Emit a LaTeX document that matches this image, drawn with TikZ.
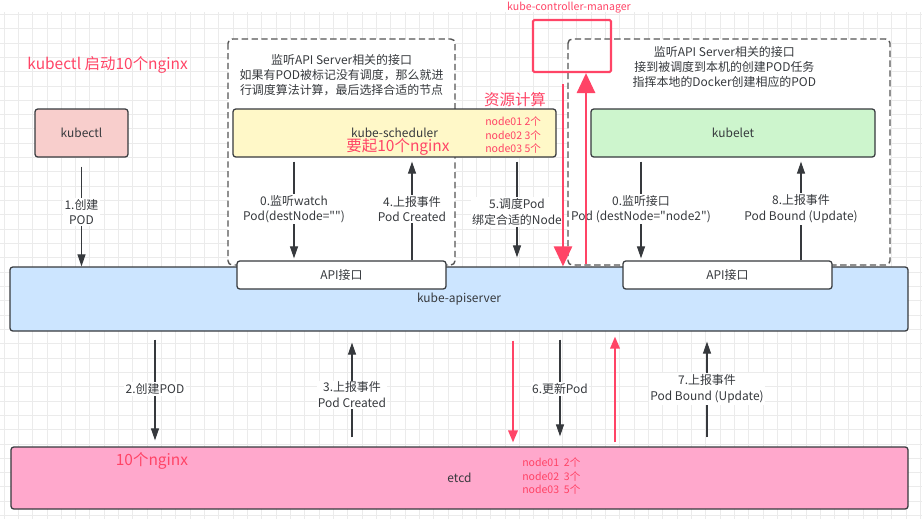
\documentclass[tikz,border=0pt]{standalone}
\usepackage{fontspec}
\setmainfont{Noto Sans CJK SC}[Ligatures=TeXOff]
\usepackage{tikz}
\usetikzlibrary{arrows.meta,calc}
\definecolor{blk}{HTML}{36393D}
\definecolor{dsh}{HTML}{555555}
\definecolor{hot}{HTML}{FF4466}
\definecolor{ctl}{HTML}{F8CECC}
\definecolor{sch}{HTML}{FFF8C8}
\definecolor{klt}{HTML}{CDF5CD}
\definecolor{api}{HTML}{CCE5FF}
\definecolor{etc}{HTML}{FFA8CC}
\definecolor{grd}{HTML}{EBEBEB}
\newcommand\fnorm{\fontsize{8.5}{11}\selectfont}
\newcommand\fbig{\fontsize{11}{13}\selectfont}
\newcommand\fsmall{\fontsize{7.5}{9.3}\selectfont}
\tikzset{
  >={Triangle[length=3mm,width=2mm]},
  box/.style={draw=blk, line width=0.9pt, rounded corners=2pt, minimum height=1.2cm,
              text=blk, font=\fnorm},
  frame/.style={draw=dsh, line width=1pt, dash pattern=on 4.5pt off 2.5pt, rounded corners=3pt, fill=white},
  note/.style={align=center, text=blk, font=\fontsize{8.5}{10.7}\selectfont},
  lbl/.style={fill=white, align=center, text=blk, font=\fnorm, inner sep=1pt},
  arr/.style={->, draw=blk, line width=0.8pt},
  hottxt/.style={text=hot, align=left, inner sep=0pt},
  hotbox/.style={draw=hot, line width=1.5pt, rounded corners=1pt},
  hotarr/.style={draw=hot, line width=2pt, -{Triangle[length=5mm,width=4.5mm]}},
  hotarrs/.style={draw=hot, line width=1.2pt, -{Triangle[length=3mm,width=2.4mm]}},
}
\begin{document}
\begin{tikzpicture}
  \useasboundingbox (0,0) rectangle (23.05,-12.975);
  % grid
  \foreach \i in {0,...,64}
    \draw[grd,line width=0.6pt] (0.1+\i*0.358,-0.3) -- (0.1+\i*0.358,-12.975);
  \foreach \i in {1,...,36}
    \draw[grd,line width=0.6pt] (0,-\i*0.358) -- (23.05,-\i*0.358);
  % frames
  \draw[frame] (5.7,-0.975) rectangle (11.375,-6.625);
  \draw[frame] (14.2,-0.975) rectangle (22.25,-6.625);
  \node[note] (schnote) at (8.54,-1.875) {监听API Server相关的接口\\如果有POD被标记没有调度，那么就进\\行调度算法计算，最后选择合适的节点};
  \node[note] (kltnote) at (18.11,-1.675) {监听API Server相关的接口\\接到被调度到本机的创建POD任务\\指挥本地的Docker创建相应的POD};
  % components
  \node[box,fill=ctl,minimum width=2.325cm] (kubectl) at (2.0375,-3.325) {kubectl};
  \node[box,fill=sch,minimum width=8.075cm] (sched) at (9.8625,-3.325) {kube-scheduler};
  \node[box,fill=klt,minimum width=7.1cm] (kubelet) at (18.325,-3.325) {kubelet};
  \node[box,fill=api,minimum width=22.45cm,minimum height=1.6cm] (apiserver) at (11.475,-7.475) {kube-apiserver};
  \node[box,fill=white,minimum width=5.225cm,minimum height=0.7cm] (api1) at (8.5375,-6.875) {API接口};
  \node[box,fill=white,minimum width=5.225cm,minimum height=0.7cm] (api2) at (18.1875,-6.875) {API接口};
  \node[box,fill=etc,minimum width=22.425cm,minimum height=1.55cm] (etcd) at (11.4875,-11.95) {etcd};
  % upper arrows
  \draw[arr,shorten <=2.25mm] (kubectl.south) -- node[lbl]{1.创建\\POD} (kubectl.south |- apiserver.north);
  \coordinate (w0) at ([xshift=-2.5125cm]sched.south);
  \coordinate (w4) at ([xshift=0.4375cm]sched.south);
  \coordinate (w5) at ([xshift=3.0625cm]sched.south);
  \coordinate (k0) at ([xshift=-2.3cm]kubelet.south);
  \coordinate (k8) at ([xshift=1.7cm]kubelet.south);
  \draw[arr,shorten <=1mm,shorten >=0.5mm] (w0) -- node[lbl]{0.监听watch\\Pod(destNode="")} (w0 |- api1.north);
  \draw[arr,shorten >=1mm] (w4 |- api1.north) -- node[lbl]{4.上报事件\\Pod Created} (w4);
  \draw[arr,shorten <=1mm,shorten >=2.25mm] (w5) -- node[lbl]{5.调度Pod\\绑定合适的Node} (w5 |- apiserver.north);
  \draw[arr,shorten <=1mm,shorten >=0.5mm] (k0) -- node[lbl]{0.监听接口\\Pod (destNode="node2")} (k0 |- api2.north);
  \draw[arr,shorten >=1mm] (k8 |- api2.north) -- node[lbl]{8.上报事件\\Pod Bound (Update)} (k8);
  % lower arrows
  \coordinate (e2) at ([xshift=-7.6cm]apiserver.south);
  \coordinate (e3) at ([xshift=-2.675cm]apiserver.south);
  \coordinate (e6) at ([xshift=2.525cm]apiserver.south);
  \coordinate (e7) at ([xshift=6.2cm]apiserver.south);
  \draw[arr,shorten <=2mm,shorten >=1.5mm] (e2) -- node[lbl]{2.创建POD} (e2 |- etcd.north);
  \draw[arr,shorten <=2.25mm,shorten >=2.75mm] (e3 |- etcd.north) -- node[lbl,pos=0.45]{3.上报事件\\Pod Created} (e3);
  \draw[arr,shorten <=2mm,shorten >=2.5mm] (e6) -- node[lbl]{6.更新Pod} (e6 |- etcd.north);
  \draw[arr,shorten <=2.25mm,shorten >=2.5mm] (e7 |- etcd.north) -- node[lbl]{7.上报事件\\Pod Bound (Update)} (e7);
  % red notes
  \node[hottxt,font=\fbig] (cmd) at (2.69,-1.625) {kubectl 启动10个nginx};
  \node[hottxt,font=\fbig] (calc) at (12.875,-2.5) {资源计算};
  \node[hottxt,font=\fbig] (want) at (9.95,-3.675) {要起10个nginx};
  \node[hottxt,font=\fsmall,anchor=west] (plan) at (12.125,-3.375) {node01 2个\\node02 3个\\node03 5个};
  \node[hottxt,font=\fbig] (total) at (3.8,-11.525) {10个nginx};
  \node[hottxt,font=\fontsize{7.5}{9.6}\selectfont,anchor=west] (store) at (13.05,-11.9) {node01\ \ 2个\\node02\ \ 3个\\node03\ \ 5个};
  \node[hotbox,minimum width=1.95cm,minimum height=1.3cm] (kcm) at (14.3,-1.15) {};
  \node[hottxt,font=\fsmall] (kcmname) at (14.225,-0.2) {kube-controller-manager};
  \coordinate (r1) at ([xshift=-0.225cm]kcm.south);
  \coordinate (r2) at ([xshift=0.35cm]kcm.south);
  \coordinate (r3) at ([xshift=1.35cm]apiserver.south);
  \coordinate (r4) at ([xshift=3.9cm]apiserver.south);
  \draw[hotarr,shorten <=2.75mm] (r1) -- (r1 |- apiserver.north);
  \draw[hotarr,shorten <=0.5mm] (r2 |- apiserver.north) -- (r2);
  \draw[hotarrs,shorten <=2.25mm,shorten >=1mm] (r3) -- (r3 |- etcd.north);
  \draw[hotarrs,shorten <=1mm,shorten >=1.25mm] (r4 |- etcd.north) -- (r4);
\end{tikzpicture}
\end{document}
